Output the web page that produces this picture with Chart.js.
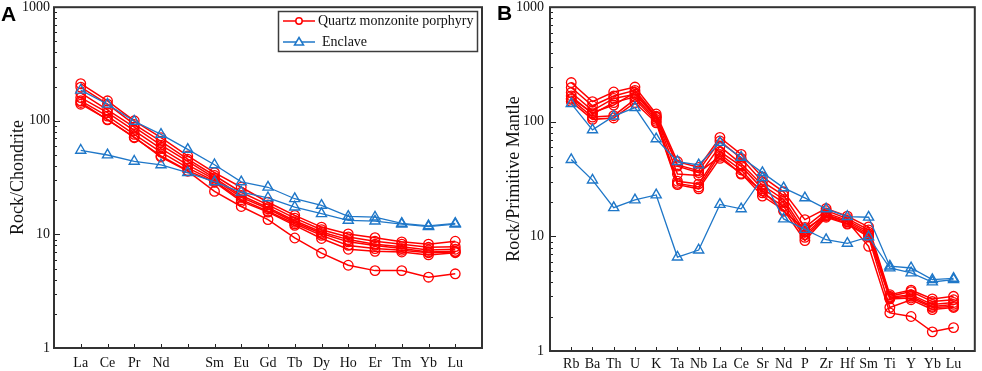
<!DOCTYPE html>
<html>
<head>
<meta charset="utf-8">
<script src="https://cdn.jsdelivr.net/npm/chart.js@4.4.0/dist/chart.umd.min.js"></script>
<style>
  html, body { margin: 0; padding: 0; background: #fff; }
  #wrap { position: relative; width: 982px; height: 371px; }
  canvas { position: absolute; top: 0; }
  #chartA { left: 0; }
  #chartB { left: 490px; }
</style>
</head>
<body>
<div id="wrap">
  <canvas id="chartA" width="490" height="371"></canvas>
  <canvas id="chartB" width="492" height="371"></canvas>
</div>
<script>
// ---------- categories / ticks ----------
const reeLabels = ["La", "Ce", "Pr", "Nd", "", "Sm", "Eu", "Gd", "Tb", "Dy", "Ho", "Er", "Tm", "Yb", "Lu"];
const spiderLabels = ["Rb", "Ba", "Th", "U", "K", "Ta", "Nb", "La", "Ce", "Sr", "Nd", "P", "Zr", "Hf", "Sm", "Ti", "Y", "Yb", "Lu"];
const yTicks = [1, 10, 100, 1000];
const yMinor = [2, 3, 4, 5, 6, 7, 8, 9];

// ---------- A : Rock / Chondrite ----------
const reeQmp1 = [212, 150, 100, 71, 49, 35, 26, 19.2, 14.7, 11.6, 10.1, 9.35, 8.6, 8.2, 8.7];
const reeQmp2 = [198, 140, 93, 66, 46, 33, 23.5, 18.2, 13.9, 11.0, 9.5, 8.7, 8.2, 7.7, 7.8];
const reeQmp3 = [176, 125, 88, 61, 44, 31.5, 22, 17.3, 13.2, 10.5, 9.0, 8.2, 7.8, 7.3, 7.4];
const reeQmp4 = [160, 118, 82, 57, 41, 30.5, 21.2, 16.8, 12.8, 10.2, 8.6, 8.0, 7.5, 7.0, 7.1];
const reeQmp5 = [150, 110, 76, 53, 38.5, 29.5, 20.2, 16.0, 12.4, 9.8, 8.0, 7.5, 7.25, 6.9, 7.0];
const reeQmp6 = [140, 103, 71, 49, 36.4, 28.8, 19.5, 15.7, 12.0, 9.2, 7.4, 7.1, 7.0, 6.6, 6.9];
const reeQmp7 = [145, 102, 72, 48, 36, 23.9, 17.6, 13.5, 9.3, 6.85, 5.35, 4.8, 4.8, 4.2, 4.5];
const reeEnc1 = [186, 140, 99, 76, 56, 41, 29, 26, 20.6, 18, 14.4, 14.2, 12.5, 11.9, 12.5];
const reeEnc2 = [55, 50, 44, 41, 35, 29, 23.5, 21, 17.4, 15.2, 13.3, 13.1, 12.3, 11.7, 12.3];

// ---------- B : Rock / Primitive Mantle ----------
const spQmp1 = [220, 150, 182, 201, 117, 45, 40, 73, 52, 33, 24.5, 14, 17.5, 15, 12.1, 3.1, 3.4, 2.85, 3.0];
const spQmp2 = [199, 138, 168, 188, 112, 42, 37.5, 68, 48, 30, 22.8, 12, 16.8, 14.3, 11.4, 3.0, 3.3, 2.7, 2.8];
const spQmp3 = [180, 125, 160, 174, 109, 35, 34, 61, 43, 28, 21, 11, 16, 13.8, 10.9, 2.95, 3.1, 2.55, 2.65];
const spQmp4 = [168, 117, 147, 165, 105, 30.3, 28.7, 55, 41, 26, 19.7, 10.3, 15.5, 13.4, 10.5, 2.9, 3.0, 2.45, 2.55];
const spQmp5 = [157, 110, 113, 157, 101, 29, 27, 52, 38, 24, 18.3, 9.8, 15, 13, 10.2, 2.85, 2.9, 2.4, 2.45];
const spQmp6 = [150, 105, 108, 147, 98, 28.3, 26, 48, 35.5, 22.5, 17, 9.2, 14.7, 12.8, 9.9, 2.4, 2.8, 2.3, 2.4];
const spQmp7 = [160, 120, 140, 180, 110, 41, 36, 50, 35, 25, 16.6, 11.5, 15.2, 13.5, 8.2, 2.15, 2.0, 1.47, 1.6];
const spEnc1 = [144, 85, 112, 133, 71, 45, 42, 66, 49, 36, 26.5, 21.7, 17.4, 14.9, 14.7, 5.5, 5.3, 4.2, 4.3];
const spEnc2 = [46.8, 31, 17.8, 20.8, 23, 6.6, 7.6, 19, 17.4, 32.5, 14.2, 11.5, 9.35, 8.7, 9.9, 5.3, 4.8, 4.0, 4.2];

const RED = "#ff0000";
const BLUE = "#1f77c8";
const SERIF = "'Liberation Serif', 'Times New Roman', serif";
const INK = "#111";

function qmpSet(vals) {
    return {
        data: vals.map((v, i) => ({ x: i, y: v })),
        borderColor: RED, borderWidth: 1.5,
        pointStyle: "circle", pointRadius: 4.8,
        pointBorderColor: RED, pointBorderWidth: 1.3,
        pointBackgroundColor: "rgba(255,255,255,0)"
    };
}

function enclaveSet(vals) {
    return {
        data: vals.map((v, i) => ({ x: i, y: v })),
        borderColor: BLUE, borderWidth: 1.3,
        pointStyle: "triangle", pointRadius: 5.8,
        pointBorderColor: BLUE, pointBorderWidth: 1.4,
        pointBackgroundColor: "rgba(255,255,255,0)"
    };
}

// inward ticks + box frame + panel letter
function framePlugin(letter, lx, ly) {
    return {
        id: "frame" + letter,
        afterDraw(chart) {
            const { ctx, chartArea: a, scales } = chart;
            ctx.save();
            ctx.strokeStyle = "#222";
            ctx.lineWidth = 1;
            scales.x.ticks.forEach(t => {
                const px = Math.round(scales.x.getPixelForValue(t.value)) + 0.5;
                ctx.beginPath();
                ctx.moveTo(px, a.bottom);
                ctx.lineTo(px, a.bottom - 4);
                ctx.stroke();
            });
            yTicks.forEach(base => {
                const py = Math.round(scales.y.getPixelForValue(base)) + 0.5;
                ctx.beginPath();
                ctx.moveTo(a.left, py);
                ctx.lineTo(a.left + 6, py);
                ctx.stroke();
                if (base === 1000) return;
                yMinor.forEach(m => {
                    const pm = Math.round(scales.y.getPixelForValue(base * m)) + 0.5;
                    ctx.beginPath();
                    ctx.moveTo(a.left, pm);
                    ctx.lineTo(a.left + 3, pm);
                    ctx.stroke();
                });
            });
            ctx.strokeStyle = "#333";
            ctx.lineWidth = 2;
            ctx.strokeRect(a.left, a.top, a.right - a.left, a.bottom - a.top);

            ctx.fillStyle = "#000";
            ctx.font = "bold 21px 'Liberation Sans', Arial, sans-serif";
            ctx.textBaseline = "alphabetic";
            ctx.fillText(letter, lx, ly);
            ctx.restore();
        }
    };
}

// boxed legend of panel A
const legendBox = {
    id: "legendBox",
    afterDraw(chart) {
        const ctx = chart.ctx;
        ctx.save();
        ctx.strokeStyle = "#3c3c3c";
        ctx.lineWidth = 1.5;
        ctx.strokeRect(278.5, 11.5, 199, 40);

        ctx.font = "14px " + SERIF;
        ctx.fillStyle = INK;
        ctx.textBaseline = "middle";

        // row 1
        ctx.strokeStyle = RED;
        ctx.lineWidth = 1.5;
        ctx.beginPath(); ctx.moveTo(283, 21); ctx.lineTo(315, 21); ctx.stroke();
        ctx.fillStyle = "#fff";
        ctx.beginPath(); ctx.arc(299, 21, 3.2, 0, Math.PI * 2); ctx.fill(); ctx.stroke();
        ctx.fillStyle = INK;
        ctx.fillText("Quartz monzonite porphyry", 318, 21);

        // row 2
        ctx.strokeStyle = BLUE;
        ctx.beginPath(); ctx.moveTo(283, 42); ctx.lineTo(315, 42); ctx.stroke();
        ctx.fillStyle = "#fff";
        ctx.beginPath();
        ctx.moveTo(299, 37.5); ctx.lineTo(303.5, 45); ctx.lineTo(294.5, 45); ctx.closePath();
        ctx.fill(); ctx.stroke();
        ctx.fillStyle = INK;
        ctx.fillText("Enclave", 322, 42);
        ctx.restore();
    }
};

function makeChart(id, labels, qmp, enclave, cfg) {
    const datasets = enclave.map(enclaveSet).concat(qmp.map(qmpSet));
    const plugins = [framePlugin(cfg.letter, cfg.lx, cfg.ly)];
    if (cfg.legend) plugins.push(legendBox);

    return new Chart(document.getElementById(id), {
        type: "line",
        data: { datasets },
        options: {
            responsive: false,
            animation: false,
            devicePixelRatio: 1,
            layout: { padding: { top: 6, right: cfg.padRight, bottom: 0, left: 0 } },
            plugins: { legend: { display: false }, tooltip: { enabled: false } },
            scales: {
                x: {
                    type: "linear", min: -1, max: labels.length,
                    grid: { display: false, drawTicks: false },
                    border: { display: false },
                    afterBuildTicks: s => { s.ticks = labels.map((_, i) => ({ value: i })); },
                    afterFit: s => {
                        s.height = cfg.xHeight;
                        s.paddingLeft = 0; s.paddingRight = 0;
                    },
                    ticks: {
                        autoSkip: false, maxRotation: 0, padding: cfg.xPad,
                        color: INK, font: { family: SERIF, size: 14 },
                        callback: v => labels[v]
                    }
                },
                y: {
                    type: "logarithmic", min: 1, max: 1000,
                    grid: { display: false, drawTicks: false },
                    border: { display: false },
                    afterBuildTicks: s => { s.ticks = yTicks.map(v => ({ value: v })); },
                    afterFit: s => {
                        s.width = cfg.yWidth;
                        s.paddingTop = 0; s.paddingBottom = 0;
                    },
                    ticks: {
                        autoSkip: false, padding: cfg.yPad,
                        color: INK, font: { family: SERIF, size: 14 },
                        callback: v => String(v)
                    },
                    title: {
                        display: true, text: cfg.yTitle, color: INK,
                        font: { family: SERIF, size: 18 },
                        padding: { top: cfg.titlePad, bottom: 0 }
                    }
                }
            }
        },
        plugins
    });
}

makeChart("chartA", reeLabels,
    [reeQmp1, reeQmp2, reeQmp3, reeQmp4, reeQmp5, reeQmp6, reeQmp7],
    [reeEnc1, reeEnc2],
    { letter: "A", lx: 1, ly: 21, padRight: 8, xHeight: 23, yWidth: 54, xPad: 7, yPad: 4,
      yTitle: "Rock/Chondrite", titlePad: 7, legend: true });

makeChart("chartB", spiderLabels,
    [spQmp1, spQmp2, spQmp3, spQmp4, spQmp5, spQmp6, spQmp7],
    [spEnc1, spEnc2],
    { letter: "B", lx: 7, ly: 20, padRight: 2, xHeight: 20, yWidth: 60, xPad: 5, yPad: 6,
      yTitle: "Rock/Primitive Mantle", titlePad: 13, legend: false });
</script>
</body>
</html>
